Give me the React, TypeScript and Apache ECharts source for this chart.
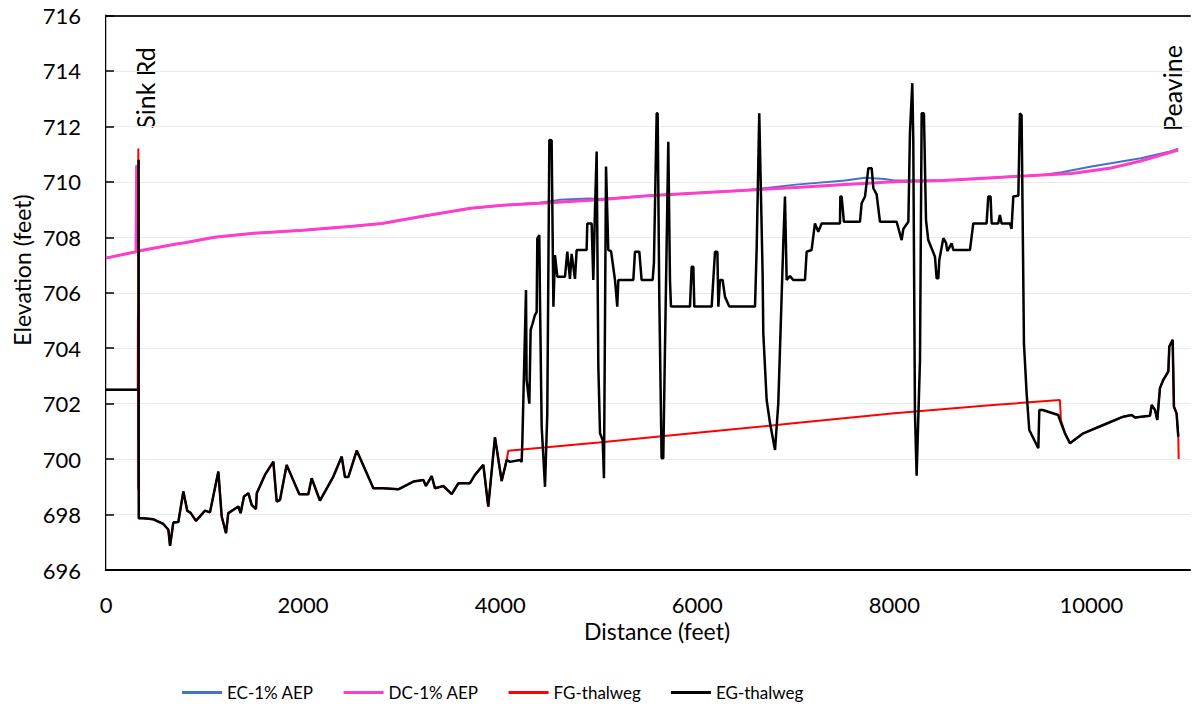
import React, { useEffect, useRef } from "react";
import * as echarts from "echarts";

const xTicks = { min: 0, max: 11000, interval: 2000 };
const yTicks = { min: 696, max: 716, interval: 2 };

const ecAep: number[][] = [[0,707.25],[305,707.48],[311,710.6],[316,707.5],[700,707.75],[800,707.8],[1100,708.0],[1500,708.15],[2000,708.25],[2500,708.4],[2800,708.5],[3200,708.75],[3700,709.05],[4000,709.15],[4400,709.25],[4600,709.35],[4900,709.4],[5000,709.38],[5500,709.5],[6000,709.6],[6500,709.7],[7000,709.9],[7500,710.05],[7700,710.15],[7900,710.1],[8000,710.05],[8500,710.05],[9000,710.15],[9500,710.25],[9700,710.35],[10000,710.55],[10500,710.85],[10800,711.1],[10880,711.2]];

const dcAep: number[][] = [[0,707.25],[305,707.48],[311,710.6],[316,707.5],[700,707.75],[800,707.8],[1100,708.0],[1500,708.15],[2000,708.25],[2500,708.4],[2800,708.5],[3200,708.75],[3700,709.05],[4000,709.15],[4500,709.25],[5000,709.35],[5500,709.5],[6000,709.6],[6500,709.7],[7000,709.8],[7500,709.9],[8000,710.0],[8500,710.05],[9000,710.15],[9500,710.25],[9800,710.3],[10200,710.5],[10500,710.75],[10880,711.15]];

const sinkRdFG: number[][] = [[0,702.5],[322,702.5],[324,705.2],[326,698.9],[328,711.2],[333,697.87]];
const sinkRdEG: number[][] = [[0,702.5],[330,702.5],[331,710.8],[332,700],[333,697.87]];

const upstreamThalweg: number[][] = [[379,697.87],[480,697.83],[582,697.66],[633,697.45],[650,696.87],[683,697.71],[734,697.73],[785,698.83],[825,698.13],[859,698.06],[913,697.77],[1005,698.14],[1055,698.08],[1140,699.55],[1174,697.93],[1218,697.33],[1241,698.05],[1343,698.29],[1366,698.05],[1400,698.65],[1445,698.77],[1478,698.35],[1522,698.2],[1530,698.77],[1613,699.43],[1698,699.91],[1732,698.47],[1766,698.53],[1833,699.79],[1962,698.73],[2053,698.73],[2087,699.31],[2171,698.5],[2307,699.37],[2392,700.09],[2425,699.35],[2459,699.35],[2544,700.31],[2713,698.95],[2815,698.95],[2966,698.91],[3119,699.19],[3220,699.25],[3247,699.03],[3305,699.39],[3338,698.95],[3423,699.03],[3508,698.74],[3576,699.13],[3693,699.13],[3744,699.43],[3829,699.79],[3879,698.29],[3947,700.79],[4015,699.21],[4066,699.97]];

const fgMid: number[][] = [[4082,700.3],[5000,700.6],[6000,700.95],[7000,701.3],[8000,701.65],[9000,701.95],[9680,702.13],[9690,701.41]];

const egMid: number[][] = [[4100,699.9],[4201,699.97],[4218,699.9],[4225,700.63],[4235,702.13],[4262,706.1],[4268,702.86],[4296,702.0],[4309,704.66],[4330,704.9],[4353,705.2],[4370,705.3],[4377,707.96],[4397,708.08],[4404,705.74],[4421,701.17],[4455,699.0],[4478,701.65],[4499,711.51],[4522,711.5],[4540,705.5],[4556,707.36],[4580,706.58],[4658,706.58],[4681,707.48],[4708,706.5],[4725,707.4],[4759,706.5],[4776,707.54],[4877,707.54],[4884,708.5],[4928,708.5],[4945,706.46],[4962,708.99],[4979,711.09],[4996,703.34],[5013,700.93],[5040,700.69],[5053,699.31],[5074,710.55],[5097,707.54],[5125,707.5],[5165,706.46],[5188,705.5],[5199,706.46],[5351,706.46],[5368,707.48],[5412,707.48],[5435,706.46],[5547,706.46],[5560,707.06],[5588,712.47],[5598,712.47],[5614,705.98],[5638,700.03],[5655,700.03],[5672,703.94],[5706,711.45],[5723,706.46],[5733,705.5],[5926,705.5],[5943,706.94],[5960,706.94],[5970,705.5],[6146,705.5],[6180,707.48],[6204,707.48],[6214,705.5],[6230,706.46],[6257,706.46],[6281,705.86],[6325,705.5],[6586,705.5],[6603,707.66],[6629,712.47],[6636,712.47],[6663,706.7],[6670,704.54],[6704,702.13],[6738,701.3],[6789,700.33],[6822,702.0],[6873,707.79],[6890,709.47],[6907,706.46],[6941,706.6],[6974,706.46],[7093,706.46],[7110,707.48],[7160,707.54],[7194,708.5],[7228,708.2],[7262,708.5],[7448,708.5],[7452,709.47],[7465,709.47],[7488,708.56],[7651,708.56],[7668,709.23],[7702,709.47],[7736,710.49],[7770,710.49],[7787,709.77],[7820,709.55],[7854,708.56],[8023,708.56],[8074,707.9],[8091,708.3],[8142,708.56],[8158,711.75],[8182,713.56],[8192,711.5],[8209,701.65],[8226,699.4],[8260,703.58],[8277,712.47],[8300,712.47],[8321,708.63],[8344,707.9],[8412,707.3],[8429,706.52],[8446,706.52],[8456,707.18],[8497,707.97],[8524,707.8],[8538,707.5],[8581,707.78],[8598,707.54],[8767,707.54],[8801,708.5],[8936,708.5],[8953,709.47],[8976,709.47],[8987,708.5],[9054,708.5],[9071,708.8],[9088,708.5],[9173,708.5],[9189,708.3],[9207,709.47],[9258,709.5],[9274,712.47],[9291,712.4],[9315,704.18],[9342,702.38],[9369,701.05],[9461,700.39],[9471,701.77],[9505,701.77],[9663,701.59],[9680,701.41]];

const downstreamThalweg: number[][] = [[9731,700.93],[9782,700.57],[9917,700.93],[10120,701.23],[10323,701.53],[10408,701.59],[10442,701.5],[10594,701.56],[10611,701.95],[10645,701.77],[10668,701.41],[10695,702.56],[10729,702.86],[10780,703.16],[10790,704.06],[10824,704.3],[10837,701.89],[10864,701.65],[10881,700.81]];

const fgEnd: number[][] = [[10885,700.0]];

const fgThalweg = [...sinkRdFG, ...upstreamThalweg, ...fgMid, ...downstreamThalweg, ...fgEnd];
const egThalweg = [...sinkRdEG, ...upstreamThalweg, ...egMid, ...downstreamThalweg];

const seriesNames = ["EC-1% AEP", "DC-1% AEP", "FG-thalweg", "EG-thalweg"];
const seriesColors = ["#4472C4", "#FF3DCB", "#FF0000", "#000000"];
const siteLabels = ["Sink Rd", "Peavine"];
const axisTitles = ["Distance (feet)", "Elevation (feet)"];

const FONT = "Lato, 'Noto Sans', sans-serif";

export default function App() {
  const ref = useRef<HTMLDivElement>(null);
  useEffect(() => {
    if (!ref.current) return;
    const chart = echarts.init(ref.current, undefined, { renderer: "svg" });
    const datasets = [ecAep, dcAep, fgThalweg, egThalweg];
    const widths = [2, 3, 2, 2.5];
    chart.setOption({
      animation: false,
      textStyle: { fontFamily: FONT },
      grid: { left: 106, right: 4, top: 15.5, bottom: 140 },
      legend: {
        data: seriesNames,
        left: 177,
        top: 679,
        icon: "rect",
        itemWidth: 40,
        itemHeight: 3,
        itemGap: 30,
        textStyle: { fontSize: 17, color: "#000", fontFamily: FONT },
      },
      xAxis: [
        {
          type: "value",
          min: xTicks.min,
          max: xTicks.max,
          interval: xTicks.interval,
          name: axisTitles[0],
          nameLocation: "middle",
          nameGap: 49,
          nameTextStyle: { fontSize: 23, color: "#000", padding: [0, 0, 0, 18] },
          axisLine: { lineStyle: { color: "#000", width: 2 } },
          axisTick: { show: false },
          axisLabel: { margin: 23, fontSize: 22, color: "#000", showMaxLabel: false, formatter: (v: number) => String(v) },
          splitLine: { show: false },
        },
        {
          type: "value",
          position: "top",
          min: xTicks.min,
          max: xTicks.max,
          axisLine: { show: true, lineStyle: { color: "#222", width: 2 } },
          axisTick: { show: false },
          axisLabel: { show: false },
          splitLine: { show: false },
        },
      ],
      yAxis: [
        {
          type: "value",
          min: yTicks.min,
          max: yTicks.max,
          interval: yTicks.interval,
          axisLine: { show: true, lineStyle: { color: "#000", width: 2 } },
          axisTick: { show: true, inside: true, length: 8, lineStyle: { color: "#000", width: 1.5 } },
          axisLabel: { margin: 25, fontSize: 22, color: "#000", formatter: (v: number) => String(v) },
          splitLine: { show: true, lineStyle: { color: "#EAEAEA", width: 1 } },
        },
        {
          type: "value",
          position: "right",
          min: yTicks.min,
          max: yTicks.max,
          axisLine: { show: true, lineStyle: { color: "#BFBFBF", width: 1 } },
          axisTick: { show: false },
          axisLabel: { show: false },
          splitLine: { show: false },
        },
      ],
      series: datasets.map((d, i) => ({
        name: seriesNames[i],
        type: "line",
        data: d,
        showSymbol: false,
        symbol: "none",
        color: seriesColors[i],
        lineStyle: { color: seriesColors[i], width: widths[i] },
        z: 2 + i,
      })),
      graphic: [
        {
          type: "text",
          x: 22,
          y: 270,
          rotation: Math.PI / 2,
          style: { text: axisTitles[1], fontSize: 23, fontFamily: FONT, fill: "#000", align: "center", verticalAlign: "middle" },
        },
        {
          type: "text",
          x: 145,
          y: 88,
          rotation: Math.PI / 2,
          style: { text: siteLabels[0], fontSize: 25, fontFamily: FONT, fill: "#000", align: "center", verticalAlign: "middle" },
        },
        {
          type: "text",
          x: 1172,
          y: 88,
          rotation: Math.PI / 2,
          style: { text: siteLabels[1], fontSize: 25, fontFamily: FONT, fill: "#000", align: "center", verticalAlign: "middle" },
        },
      ],
    });
    return () => chart.dispose();
  }, []);
  return <div ref={ref} style={{ position: "fixed", left: 0, top: 0, width: 1194, height: 710, background: "#fff" }} />;
}
